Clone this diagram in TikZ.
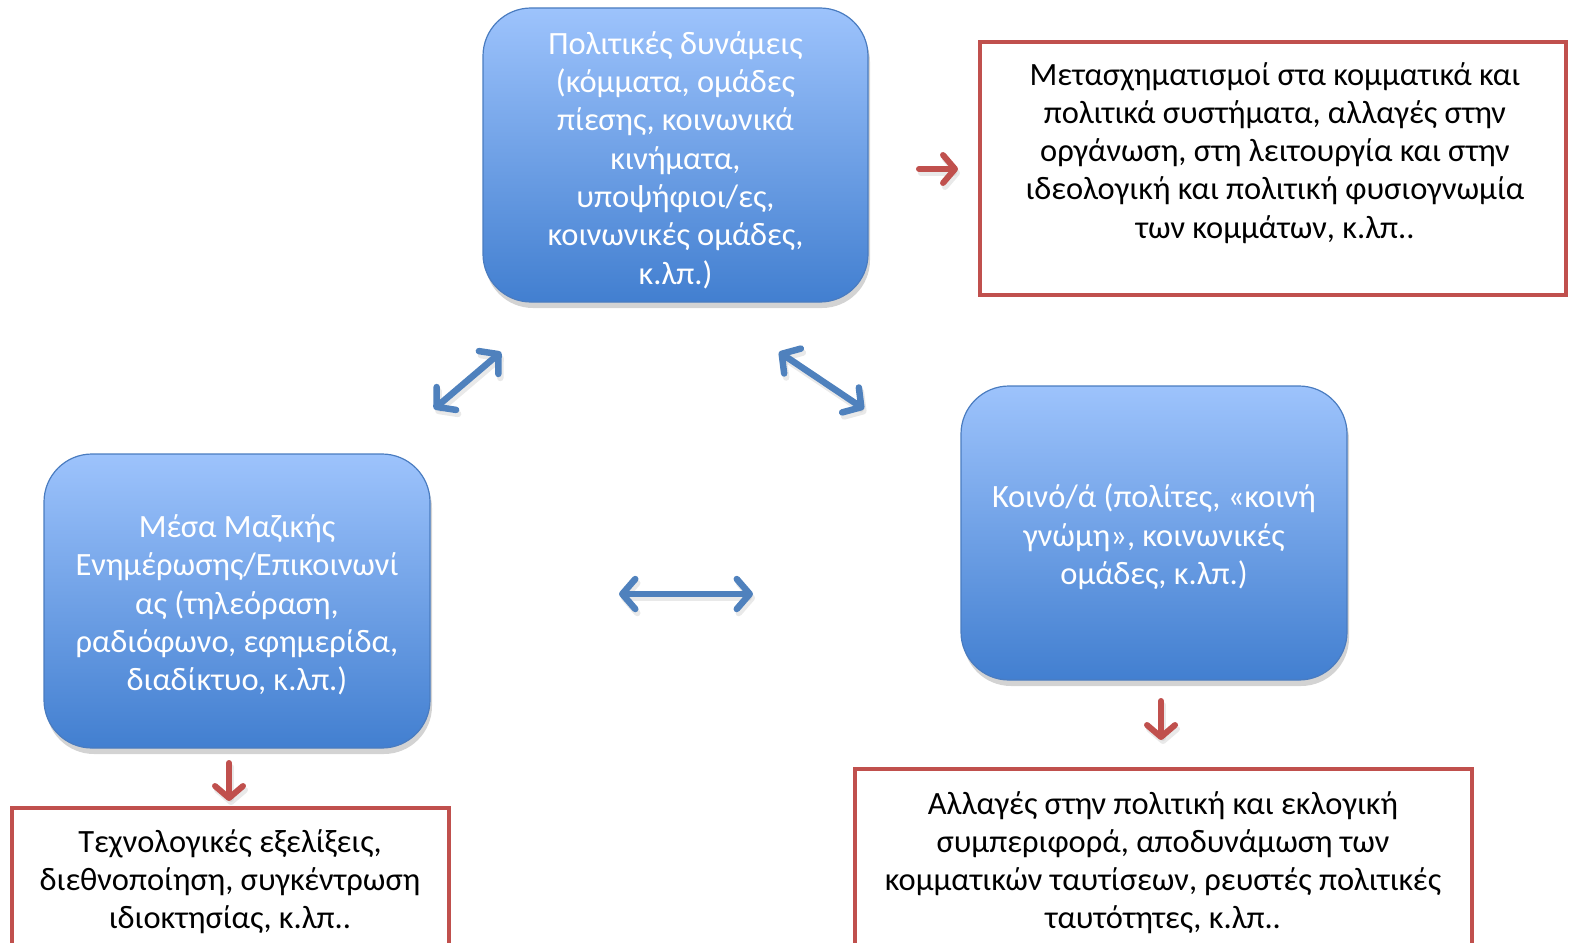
\documentclass[tikz,border=0pt]{standalone}
\usepackage{fontspec}
\setmainfont{Carlito}
\usetikzlibrary{arrows.meta,shadows,shapes.misc}
\definecolor{btop}{HTML}{9DC3FC}
\definecolor{bbot}{HTML}{427FD0}
\definecolor{bborder}{HTML}{4A7CC0}
\definecolor{barrowc}{HTML}{4F81BD}
\definecolor{redc}{HTML}{C0504D}
\tikzset{
  bluebox/.style={draw=bborder, line width=1.2pt, rounded corners=48pt,
    top color=btop, bottom color=bbot, inner sep=0pt,
    drop shadow={opacity=0.35, shadow xshift=2pt, shadow yshift=-6pt}},
  bluetext/.style={text=white, align=center, font=\fontsize{32.5}{38.3}\selectfont, inner sep=0pt},
  redbox/.style={draw=redc, line width=4pt, fill=white},
  redtext/.style={text=black, align=center, font=\fontsize{32.5}{38.3}\selectfont, inner sep=0pt},
  barrow/.style={draw=barrowc, line width=6.5pt, line cap=round,
    {Straight Barb[length=13pt,width=30pt,line width=6.5pt,line cap=round,line join=round]}-{Straight Barb[length=13pt,width=30pt,line width=6.5pt,line cap=round,line join=round]}},
  rarrow/.style={draw=redc, line width=6pt, line cap=round,
    -{Straight Barb[length=12pt,width=28pt,line width=6pt,line cap=round,line join=round]}},
  ashadow/.style={transform canvas={shift={(2pt,-4pt)}}, draw=black!25, opacity=0.35}
}
\begin{document}
\begin{tikzpicture}[x=1pt,y=-1pt]
\useasboundingbox (0,0) rectangle (1570,942);
\clip (0,0) rectangle (1570,942);
% blue boxes
\node[bluebox, minimum width=385pt, minimum height=294pt] (pol) at (675.5,155) {};
\node[bluebox, minimum width=386pt, minimum height=294pt] (mme) at (237,601) {};
\node[bluebox, minimum width=386pt, minimum height=294pt] (koi) at (1154,533) {};
\node[bluetext] (polt) at (675.5,160)
  {Πολιτικές δυνάμεις\\(κόμματα, ομάδες\\πίεσης, κοινωνικά\\κινήματα,\\υποψήφιοι/ες,\\κοινωνικές ομάδες,\\κ.λπ.)};
\node[bluetext] (mmet) at (237,605)
  {Μέσα Μαζικής\\Ενημέρωσης/Επικοινωνί\\ας (τηλεόραση,\\ραδιόφωνο, εφημερίδα,\\διαδίκτυο, κ.λπ.)};
\node[bluetext] (koit) at (1154,537)
  {Κοινό/ά (πολίτες, «κοινή\\γνώμη», κοινωνικές\\ομάδες, κ.λπ.)};
% red boxes
\node[redbox, minimum width=586pt, minimum height=253pt] (r1) at (1273,168.5) {};
\node[redtext, anchor=north] (r1t) at (1275,62)
  {Μετασχηματισμοί στα κομματικά και\\πολιτικά συστήματα, αλλαγές στην\\οργάνωση, στη λειτουργία και στην\\ιδεολογική και πολιτική φυσιογνωμία\\των κομμάτων, κ.λπ..};
\node[redbox, minimum width=437pt, minimum height=200pt] (r2) at (230.5,908) {};
\node[redtext, anchor=north] (r2t) at (230,829)
  {Τεχνολογικές εξελίξεις,\\διεθνοποίηση, συγκέντρωση\\ιδιοκτησίας, κ.λπ..};
\node[redbox, minimum width=617pt, minimum height=230pt] (r3) at (1163.5,884) {};
\node[redtext, anchor=north] (r3t) at (1163,791)
  {Αλλαγές στην πολιτική και εκλογική\\συμπεριφορά, αποδυνάμωση των\\κομματικών ταυτίσεων, ρευστές πολιτικές\\ταυτότητες, κ.λπ..};
% arrow end coordinates
\coordinate (a1s) at (434,409); \coordinate (a1e) at (501,352);
\coordinate (a2s) at (779,352); \coordinate (a2e) at (864,409);
\coordinate (a3s) at (619,594); \coordinate (a3e) at (753,594);
\coordinate (b1s) at (919,169); \coordinate (b1e) at (958,169);
\coordinate (b2s) at (1161,701); \coordinate (b2e) at (1161,740);
\coordinate (b3s) at (229,763); \coordinate (b3e) at (229,801);
\foreach \s/\e in {a1s/a1e,a2s/a2e,a3s/a3e}
  \draw[barrow, ashadow] (\s) -- (\e);
\foreach \s/\e in {b1s/b1e,b2s/b2e,b3s/b3e}
  \draw[rarrow, ashadow] (\s) -- (\e);
\draw[barrow] (a1s) -- (a1e);
\draw[barrow] (a2s) -- (a2e);
\draw[barrow] (a3s) -- (a3e);
\draw[rarrow] (b1s) -- (b1e);
\draw[rarrow] (b2s) -- (b2e);
\draw[rarrow] (b3s) -- (b3e);
\end{tikzpicture}
\end{document}
